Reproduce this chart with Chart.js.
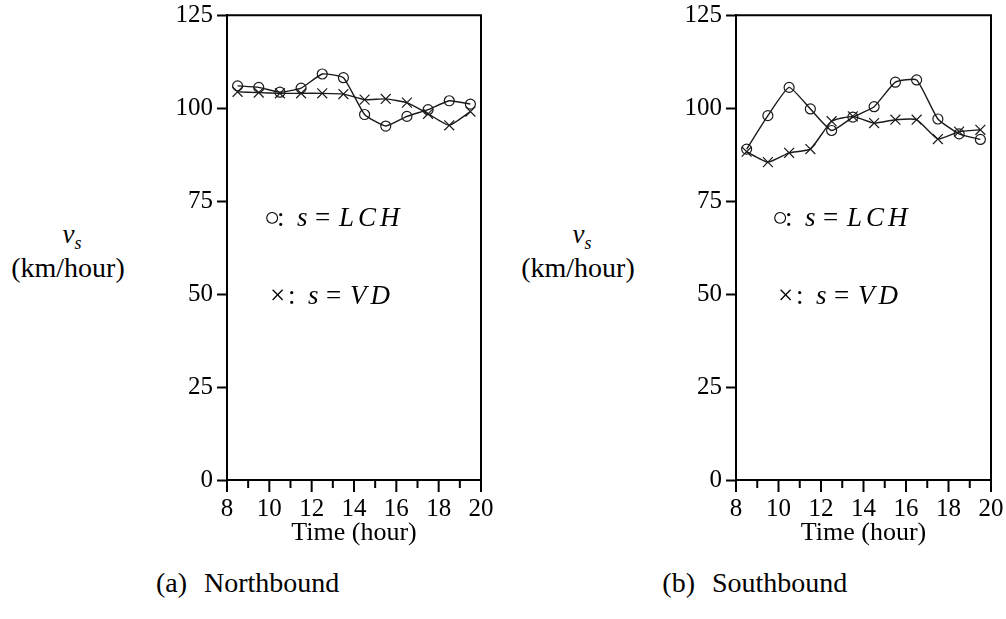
<!DOCTYPE html>
<html>
<head>
<meta charset="utf-8">
<script src="https://cdn.jsdelivr.net/npm/chart.js@4/dist/chart.umd.min.js"></script>
<style>
  body { margin: 0; background: #fff; width: 1006px; height: 619px; position: relative; overflow: hidden;
         font-family: "Liberation Serif", serif; color: #000; }
  .box { position: absolute; top: 0; height: 560px; }
  .txt { position: absolute; font-size: 26px; line-height: 30px; white-space: nowrap; }
  .c { transform: translateX(-50%); text-align: center; }
  .r { transform: translateX(-100%); }
  i { font-style: italic; }
</style>
</head>
<body>
<div class="box" id="boxA" style="left:130px;width:370px"><canvas id="chartA"></canvas></div>
<div class="box" id="boxB" style="left:640px;width:366px"><canvas id="chartB"></canvas></div>

<div class="txt c" style="left:72px;top:219px;font-size:27px"><i>v</i><sub style="font-size:18px"><i>s</i></sub></div>
<div class="txt c" style="left:68px;top:253px;font-size:28px">(km/hour)</div>
<div class="txt c" style="left:582px;top:219px;font-size:27px"><i>v</i><sub style="font-size:18px"><i>s</i></sub></div>
<div class="txt c" style="left:578px;top:253px;font-size:28px">(km/hour)</div>

<div class="txt r" style="left:187px;top:568px;font-size:28px">(a)</div>
<div class="txt" style="left:204px;top:568px;font-size:28px">Northbound</div>
<div class="txt r" style="left:695px;top:568px;font-size:28px">(b)</div>
<div class="txt" style="left:712px;top:568px;font-size:28px">Southbound</div>

<div id="notes"></div>

<script>
// time of day (hour), mid-point of each hour
const hours = [8.5, 9.5, 10.5, 11.5, 12.5, 13.5, 14.5, 15.5, 16.5, 17.5, 18.5, 19.5];

// (a) Northbound
const northLCH = [106, 105.6, 104.3, 105.4, 109.2, 108.2, 98.3, 95.2, 97.8, 99.6, 102, 101.1];
const northVD  = [104.4, 104.2, 104, 104, 104, 103.8, 102.3, 102.5, 101.5, 98.5, 95.4, 99.1];

// (b) Southbound
const southLCH = [89, 98, 105.6, 99.8, 94, 97.6, 100.4, 107, 107.6, 97.1, 93.1, 91.6];
const southVD  = [88.3, 85.5, 88, 89, 96.5, 97.8, 96, 96.9, 96.9, 91.7, 93.7, 94.2];

const yTicks = [0, 25, 50, 75, 100, 125];
const xTicks = [8, 10, 12, 14, 16, 18, 20];

// in-plot notes: "○: s = LCH" and "×: s = VD", written out piece by piece
function addNote(x, y, sym, name, gap) {
    const parts = [
        [sym, 0, ''],
        [':', gap, ''],
        ['s', gap + 20, 'i'],
        ['=', gap + 38, ''],
        [name, gap + 62, 'i']
    ];
    parts.forEach(p => {
        const d = document.createElement('div');
        d.className = 'txt';
        d.style.left = (x + p[1]) + 'px';
        d.style.top = y + 'px';
        d.style.fontSize = '27px';
        if (p[2] === 'i') { d.style.fontStyle = 'italic'; d.style.letterSpacing = '4px'; }
        d.textContent = p[0];
        document.getElementById('notes').appendChild(d);
    });
}
addNote(264, 202, '○', 'LCH', 13);
addNote(270, 280, '×', 'VD', 18);
addNote(772, 202, '○', 'LCH', 13);
addNote(778, 280, '×', 'VD', 18);

const tickFont = { family: '"Liberation Serif", serif', size: 25, lineHeight: 0.9 };

// frame round the plot and the x tick marks (long at even hours, short at odd)
const framePlugin = {
    id: 'frame',
    afterDatasetsDraw(chart) {
        const { ctx, chartArea: a, scales } = chart;
        ctx.save();
        ctx.strokeStyle = '#000';
        ctx.lineWidth = 2;
        ctx.strokeRect(a.left, a.top, a.right - a.left, a.bottom - a.top);
        for (let h = 8; h <= 20; h++) {
            const x = scales.x.getPixelForValue(h);
            const len = h % 2 === 0 ? 12 : 8;
            ctx.beginPath();
            ctx.moveTo(x, a.bottom);
            ctx.lineTo(x, a.bottom + len);
            ctx.stroke();
        }
        ctx.restore();
    }
};

function makeChart(id, lch, vd, padRight, yWidth) {
    const ctx = document.getElementById(id).getContext('2d');
    return new Chart(ctx, {
        type: 'line',
        data: {
            datasets: [
                {
                    label: 'LCH',
                    data: hours.map((h, i) => ({ x: h, y: lch[i] })),
                    borderColor: '#1a1a1a',
                    borderWidth: 1.4,
                    tension: 0.15,
                    pointStyle: 'circle',
                    pointRadius: 5,
                    pointBorderWidth: 1.2,
                    pointBorderColor: '#1a1a1a',
                    pointBackgroundColor: 'rgba(0,0,0,0)'
                },
                {
                    label: 'VD',
                    data: hours.map((h, i) => ({ x: h, y: vd[i] })),
                    borderColor: '#1a1a1a',
                    borderWidth: 1.4,
                    tension: 0.15,
                    pointStyle: 'crossRot',
                    pointRadius: 7,
                    pointBorderWidth: 1.2,
                    pointBorderColor: '#1a1a1a'
                }
            ]
        },
        options: {
            responsive: true,
            maintainAspectRatio: false,
            animation: false,
            layout: { padding: { top: 15, right: padRight, left: 0, bottom: 0 } },
            plugins: { legend: { display: false }, tooltip: { enabled: false } },
            scales: {
                x: {
                    type: 'linear',
                    min: 8,
                    max: 20,
                    afterBuildTicks: s => { s.ticks = xTicks.map(v => ({ value: v })); },
                    afterFit: s => { s.height = 80; },
                    border: { display: true, color: '#000', width: 2 },
                    grid: { drawOnChartArea: false, tickLength: 12, tickColor: 'rgba(0,0,0,0)' },
                    ticks: { color: '#000', font: { family: '"Liberation Serif", serif', size: 25 }, padding: 2, maxRotation: 0 },
                    title: {
                        display: true,
                        text: 'Time (hour)',
                        color: '#000',
                        font: { family: '"Liberation Serif", serif', size: 26 },
                        padding: { top: 0, bottom: 11 }
                    }
                },
                y: {
                    min: 0,
                    max: 125,
                    afterBuildTicks: s => { s.ticks = yTicks.map(v => ({ value: v })); },
                    afterFit: s => { s.width = yWidth; },
                    border: { display: true, color: '#000', width: 2 },
                    grid: { drawOnChartArea: false, tickLength: 10, tickColor: '#000', tickWidth: 2 },
                    ticks: { color: '#000', font: tickFont, padding: 4 }
                }
            }
        },
        plugins: [framePlugin]
    });
}

makeChart('chartA', northLCH, northVD, 19, 97);
makeChart('chartB', southLCH, southVD, 15, 96);
</script>
</body>
</html>
